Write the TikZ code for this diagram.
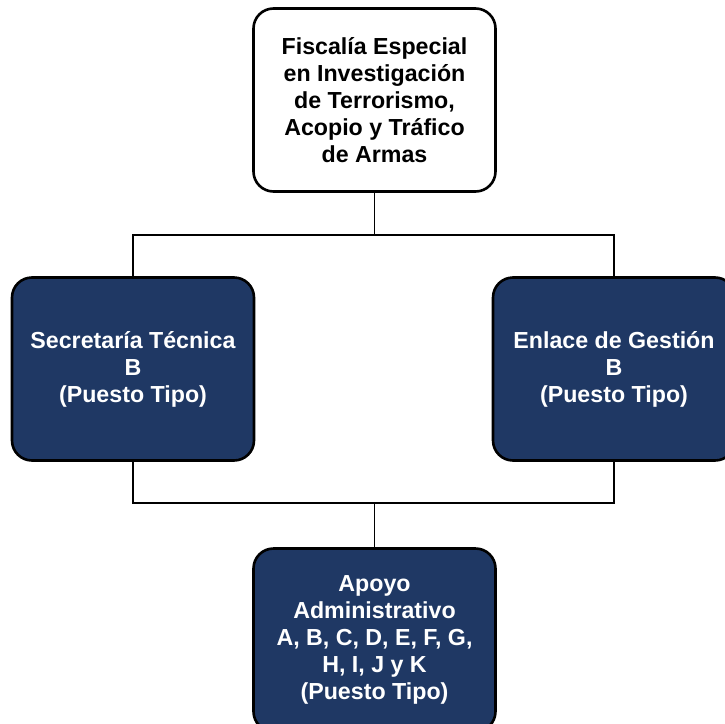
\documentclass[tikz,border=0pt]{standalone}
\usepackage{fontspec}
\setmainfont{Liberation Sans}
\definecolor{navy}{RGB}{31,56,100}
\begin{document}
\begin{tikzpicture}[x=1pt,y=-1pt,
  unitbox/.style={rectangle, rounded corners=20pt, line width=2.6pt, draw=black,
    minimum width=242pt, minimum height=183pt, align=center, inner sep=0pt,
    font=\fontsize{23.2}{27}\selectfont\bfseries},
  lightbox/.style={unitbox, fill=white, text=black},
  darkbox/.style={unitbox, fill=navy, text=white},
  link/.style={line width=1.7pt, draw=black}]
\useasboundingbox (0,0) rectangle (725,723);
\clip (0,0) rectangle (725,723);
% top unit
\node[lightbox] (fis) at (374.5,100) {Fiscalía Especial\\en Investigación\\de Terrorismo,\\Acopio y Tráfico\\de Armas};
% second level
\node[darkbox] (sec) at (133,369) {Secretaría Técnica\\B\\(Puesto Tipo)};
\node[darkbox] (enl) at (614,369) {Enlace de Gestión\\B\\(Puesto Tipo)};
% third level
\node[darkbox] (apo) at (374.5,640) {Apoyo\\Administrativo\\A, B, C, D, E, F, G,\\H, I, J y K\\(Puesto Tipo)};
% connectors
\coordinate (j1) at (374.5,235);
\coordinate (j2) at (374.5,503);
\draw[link] (fis.south) -- (j1);
\draw[link] (sec.north) |- (j1) -| (enl.north);
\draw[link] (sec.south) |- (j2) -| (enl.south);
\draw[link] (j2) -- (apo.north);
\end{tikzpicture}
\end{document}
